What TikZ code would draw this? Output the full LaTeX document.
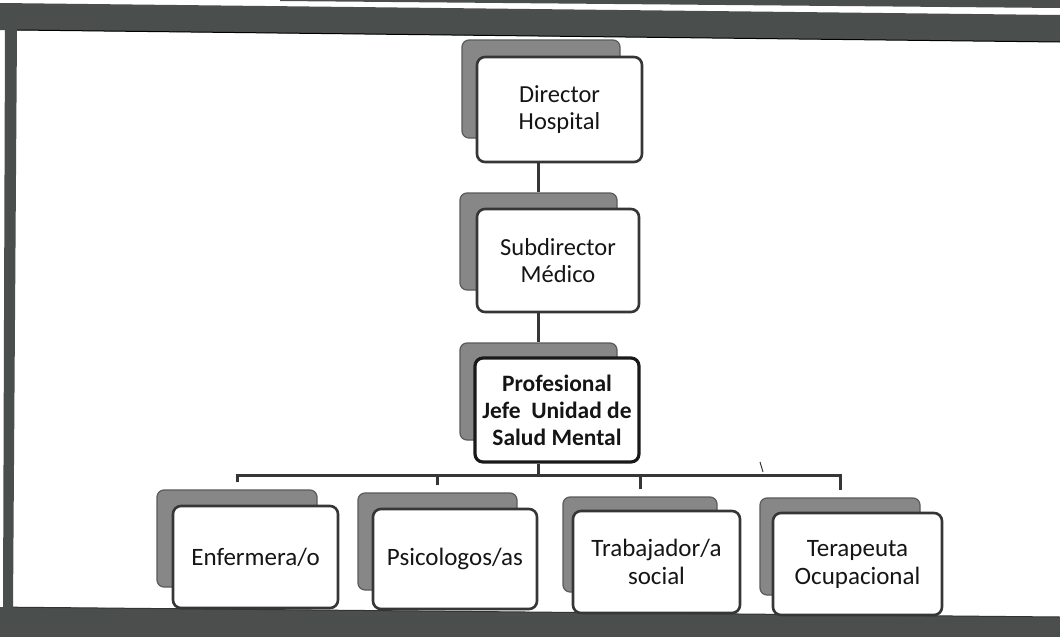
\documentclass[tikz,border=0pt]{standalone}
\usepackage{fontspec}
\setmainfont{Carlito}
\definecolor{bandcol}{HTML}{4A4F4D}
\definecolor{shadecol}{HTML}{878787}
\definecolor{shadeedge}{HTML}{5A5A5A}
\definecolor{edgecol}{HTML}{363636}
\definecolor{inkcol}{HTML}{151515}
\tikzset{
  band/.style={fill=bandcol, draw=none},
  shadebox/.style={rectangle, rounded corners=7pt, fill=shadecol, draw=shadeedge, line width=1.2pt, inner sep=0pt},
  frontbox/.style={rectangle, rounded corners=8pt, fill=white, draw=edgecol, line width=2.6pt, inner sep=0pt, align=center, text=inkcol, font=\fontsize{24.5}{27}\selectfont},
  bossbox/.style={frontbox, draw=black!90, line width=3.2pt, font=\fontsize{23.5}{27}\selectfont\bfseries},
  lowbox/.style={frontbox, font=\fontsize{25}{28}\selectfont},
  link/.style={draw=edgecol, line width=3pt},
}
\begin{document}
\begin{tikzpicture}[x=1pt,y=-1pt]
\useasboundingbox (0,0) rectangle (1060,637);
\fill[white] (0,0) rectangle (1060,637);
% frame bands
\fill[band] (0,3) -- (1060,15) -- (1060,42) -- (0,30) -- cycle;
\fill[band] (280,0) -- (1060,0) -- (1060,8) -- (280,1) -- cycle;
\fill[band] (5,30) -- (17,30) -- (13,610) -- (3,610) -- cycle;
\fill[band] (0,607) -- (1060,617) -- (1060,637) -- (0,637) -- cycle;
\draw[black, line width=1pt] (17,30) -- (1060,42);
\draw[black!80, line width=1pt] (13,607.2) -- (1060,617);
% shadow boxes
\node[shadebox, minimum width=158pt, minimum height=98pt] (dirsh) at (541,89) {};
\node[shadebox, minimum width=157pt, minimum height=97pt] (subsh) at (538.5,241.5) {};
\node[shadebox, minimum width=157pt, minimum height=97pt] (profsh) at (538.5,391.5) {};
\node[shadebox, minimum width=160pt, minimum height=97pt] (enfsh) at (237,538.5) {};
\node[shadebox, minimum width=159pt, minimum height=97pt] (psish) at (437.5,541.5) {};
\node[shadebox, minimum width=154pt, minimum height=95pt] (trash) at (640,544.5) {};
\node[shadebox, minimum width=160pt, minimum height=97pt] (tersh) at (840,546.5) {};
% front boxes
\node[frontbox, minimum width=165pt, minimum height=105pt] (dir) at (559.5,109.5) {Director\\Hospital};
\node[frontbox, minimum width=162pt, minimum height=103pt] (sub) at (558,260.5) {Subdirector\\Médico};
\node[bossbox, minimum width=164pt, minimum height=104pt] (prof) at (557,410) {Profesional\\Jefe\ \ Unidad de\\Salud Mental};
\node[lowbox, minimum width=165pt, minimum height=102pt] (enf) at (255.5,557) {Enfermera/o};
\node[lowbox, minimum width=164pt, minimum height=100pt] (psi) at (455,559) {Psicologos/as};
\node[lowbox, minimum width=167pt, minimum height=102pt] (tra) at (656.5,562) {Trabajador/a\\social};
\node[lowbox, minimum width=169pt, minimum height=102pt] (ter) at (857.5,564) {Terapeuta\\Ocupacional};
% connectors
\coordinate (bus) at (538.5,475);
\draw[link] (dir.south -| subsh.north) -- (subsh.north);
\draw[link] (sub.south -| profsh.north) -- (profsh.north);
\draw[link] (prof.south -| bus) -- (bus);
\draw[link] ([yshift=7pt]enfsh.north) |- (bus) -| ([yshift=7pt]tersh.north);
\draw[link] ([yshift=7pt]psish.north) -- (psish.north |- bus);
\draw[link] ([yshift=7pt]trash.north) -- (trash.north |- bus);
% stray mark
\coordinate (marka) at (760,462);
\coordinate (markb) at (763,472);
\draw[edgecol, line width=1pt] (marka) -- (markb);
\end{tikzpicture}
\end{document}
